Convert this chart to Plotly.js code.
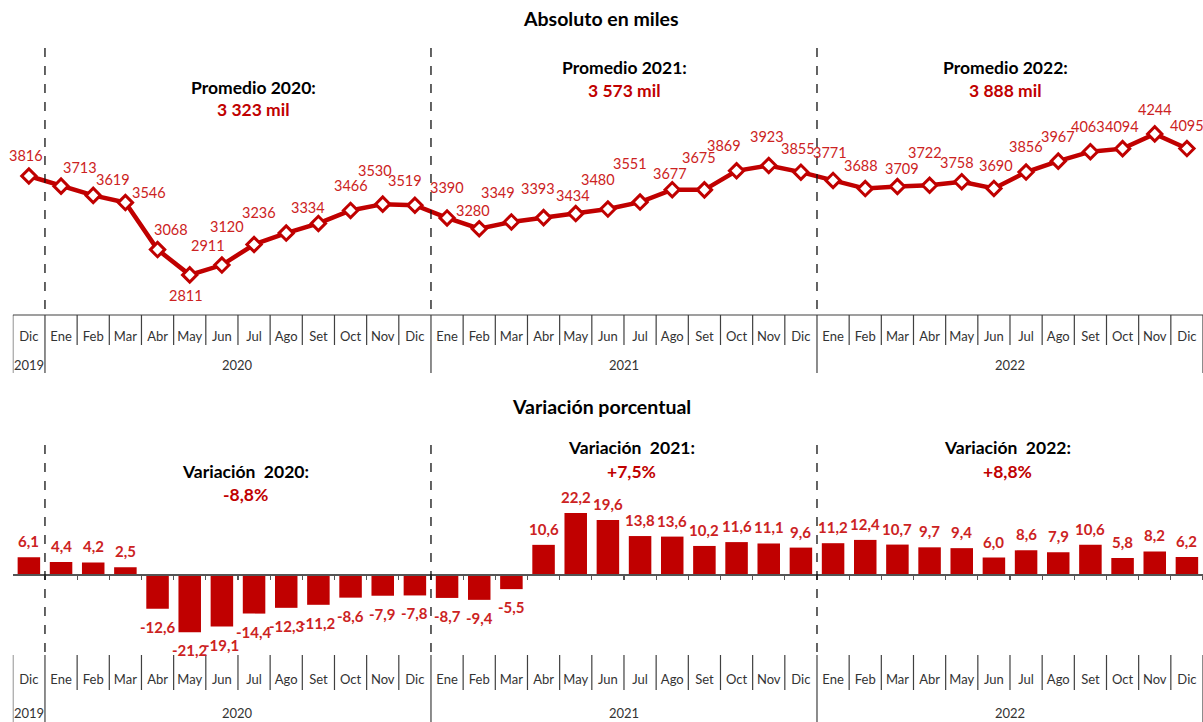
<!DOCTYPE html>
<html><head><meta charset="utf-8">
<script src="https://cdn.plot.ly/plotly-3.0.1.min.js"></script>
<style>html,body{margin:0;padding:0;background:#fff}#chart{width:1203px;height:722px}</style>
</head><body><div id="chart"></div>
<script>
// ---- data ----
const months = ["Dic",
  "Ene","Feb","Mar","Abr","May","Jun","Jul","Ago","Set","Oct","Nov","Dic",
  "Ene","Feb","Mar","Abr","May","Jun","Jul","Ago","Set","Oct","Nov","Dic",
  "Ene","Feb","Mar","Abr","May","Jun","Jul","Ago","Set","Oct","Nov","Dic"];
const years = ["2019",
  "2020","2020","2020","2020","2020","2020","2020","2020","2020","2020","2020","2020",
  "2021","2021","2021","2021","2021","2021","2021","2021","2021","2021","2021","2021",
  "2022","2022","2022","2022","2022","2022","2022","2022","2022","2022","2022","2022"];
const absoluto = [3816,
  3713,3619,3546,3068,2811,2911,3120,3236,3334,3466,3530,3519,
  3390,3280,3349,3393,3434,3480,3551,3677,3675,3869,3923,3855,
  3771,3688,3709,3722,3758,3690,3856,3967,4063,4094,4244,4095];
const variacion = [6.1,
  4.4,4.2,2.5,-12.6,-21.2,-19.1,-14.4,-12.3,-11.2,-8.6,-7.9,-7.8,
  -8.7,-9.4,-5.5,10.6,22.2,19.6,13.8,13.6,10.2,11.6,11.1,9.6,
  11.2,12.4,10.7,9.7,9.4,6.0,8.6,7.9,10.6,5.8,8.2,6.2];
const resumenAnios = ["2020","2021","2022"];
const promedios = ["3 323 mil","3 573 mil","3 888 mil"];
const variacionesAnuales = ["-8,8%","+7,5%","+8,8%"];

// ---- label offsets for the line labels (style, pixels) ----
const labelDx = [-3,
  19,20,24,13,-4,-14,-27,-27,-10,0,-8,-10,
  0,-6,-13,-6,-3,-10,-10,-2,-5,-13,-2,-3,
  -3,-4,5,-5,-5,2,0,0,-2,-1,0,0];
const labelDy = [-21,
  -19,-16,-10,-20,21,-20,-18,-21,-16,-25,-34,-25,
  -30,-18,-29,-29,-18,-30,-39,-16,-32,-25,-29,-24,
  -28,-23,-18,-33,-19,-23,-26,-25,-25,-22,-24,-23];

// ---- styling / layout helpers ----
const W = 1203, H = 722;
const F = 'Lato, "Open Sans", sans-serif';
const RED = '#C00000', LBL = '#CC2222', INK = '#333333';
const px = v => v / W, py = v => 1 - v / H;
const idx = months.map((_, i) => i);
const n = months.length;

// axis calibration (pixel layout)
const TOP = {top: 40, bottom: 315};
const BOT = {top: 440, bottom: 655};
const yTopRange = [3816 - (315 - 176) / 0.0984, 3816 + (176 - 40) / 0.0984];
const yBotRange = [-(655 - 574) / 2.75, (574 - 440) / 2.75];
const xdom = [12.8 / W, 1];

// year boundaries
const yearBreaks = [];
for (let i = 1; i < n; i++) if (years[i] !== years[i - 1]) yearBreaks.push(i - 0.5);
const yearGroups = [];
years.forEach((y, i) => {
  let g = yearGroups.find(o => o.y === y);
  if (!g) { g = {y, a: i, b: i}; yearGroups.push(g); }
  g.b = i;
});

const shapes = [];
const boxLine = {color: '#404040', width: 1.2};
shapes.push({type: 'line', xref: 'x', yref: 'paper', x0: -0.5, x1: n - 0.5,
  y0: py(TOP.bottom), y1: py(TOP.bottom), line: boxLine});
for (let k = 0; k <= n; k++) {
  const xb = k - 0.5;
  const isYear = k === 0 || k === n || yearBreaks.includes(xb);
  shapes.push({type: 'line', xref: 'x', yref: 'paper', x0: xb, x1: xb,
    y0: py(TOP.bottom), y1: py(isYear ? 373 : 345), line: boxLine});
  shapes.push({type: 'line', xref: 'x2', yref: 'paper', x0: xb, x1: xb,
    y0: py(BOT.bottom), y1: py(isYear ? 722 : 690), line: boxLine});
}
yearBreaks.forEach(xb => {
  shapes.push({type: 'line', xref: 'x', yref: 'paper', x0: xb, x1: xb,
    y0: py(48), y1: py(TOP.bottom), line: {color: '#111', width: 1.3, dash: 'dash'}});
  shapes.push({type: 'line', xref: 'x2', yref: 'paper', x0: xb, x1: xb,
    y0: py(445), y1: py(BOT.bottom), line: {color: '#111', width: 1.3, dash: 'dash'}});
});

const annotations = [];
const addText = (text, x, y, size, color, bold) => annotations.push({
  text: bold ? '<b>' + text + '</b>' : text, xref: 'paper', yref: 'paper',
  x: px(x), y: py(y), xanchor: 'center', yanchor: 'middle', showarrow: false,
  font: {family: F, size, color}});
addText('Absoluto en miles', 601, 19, 19.5, '#000', true);
addText('Variación porcentual', 601, 407, 19.5, '#000', true);
const promX = [253, 624, 1006], promY = [88, 68, 68];
const varX = [245, 631, 1007], varY = [471, 448, 448];
resumenAnios.forEach((a, k) => {
  addText('Promedio ' + a + ':', promX[k], promY[k], 17.5, '#000', true);
  addText(promedios[k], promX[k], promY[k] + 22, 17.5, RED, true);
  addText('Variación  ' + a + ':', varX[k], varY[k], 17.5, '#000', true);
  addText(variacionesAnuales[k], varX[k], varY[k] + 23, 17.5, RED, true);
});
yearGroups.forEach(g => {
  annotations.push({text: g.y, xref: 'x', yref: 'paper', x: (g.a + g.b) / 2, y: py(365),
    xanchor: 'center', yanchor: 'middle', showarrow: false, font: {family: F, size: 13, color: INK}});
  annotations.push({text: g.y, xref: 'x2', yref: 'paper', x: (g.a + g.b) / 2, y: py(713),
    xanchor: 'center', yanchor: 'middle', showarrow: false, font: {family: F, size: 13, color: INK}});
});
// data labels of the line, anchored at each data point
absoluto.forEach((v, i) => {
  annotations.push({text: String(v), xref: 'x', yref: 'y', x: i, y: v,
    xshift: labelDx[i], yshift: -labelDy[i], xanchor: 'center', yanchor: 'middle',
    showarrow: false, font: {family: F, size: 14.5, color: LBL}});
});
// data labels of the bars, anchored at each bar end
variacion.forEach((v, i) => {
  annotations.push({text: '<b>' + v.toFixed(1).replace('.', ',') + '</b>', xref: 'x2', yref: 'y2',
    x: i, y: v, yanchor: v >= 0 ? 'bottom' : 'top', yshift: v >= 0 ? 5 : -7,
    xanchor: 'center', showarrow: false, font: {family: F, size: 15, color: LBL}});
});

const traces = [
  {type: 'scatter', x: idx, y: absoluto, xaxis: 'x', yaxis: 'y',
   mode: 'lines+markers',
   line: {color: RED, width: 4.5},
   marker: {symbol: 'diamond', size: 11, color: '#fff', line: {color: RED, width: 3}},
   cliponaxis: false, hoverinfo: 'skip', showlegend: false},
  {type: 'bar', x: idx, y: variacion, xaxis: 'x2', yaxis: 'y2',
   marker: {color: RED}, cliponaxis: false, hoverinfo: 'skip', showlegend: false},
  {type: 'scatter', x: [0], y: [0], xaxis: 'x3', yaxis: 'y2', mode: 'markers',
   marker: {opacity: 0}, hoverinfo: 'skip', showlegend: false}
];

const monthAxis = {
  domain: xdom, range: [-0.5, n - 0.5], tickmode: 'array', tickvals: idx, ticktext: months,
  ticks: 'outside', ticklen: 9, tickcolor: 'rgba(0,0,0,0)',
  tickfont: {family: F, size: 13, color: INK},
  showgrid: false, zeroline: false, showline: false, fixedrange: true
};

const layout = {
  width: W, height: H, margin: {l: 0, r: 0, t: 0, b: 0},
  paper_bgcolor: '#fff', plot_bgcolor: 'rgba(0,0,0,0)',
  separators: ', ', bargap: 0.3, showlegend: false,
  xaxis: Object.assign({}, monthAxis, {anchor: 'y'}),
  yaxis: {domain: [py(TOP.bottom), py(TOP.top)], range: yTopRange, visible: false, fixedrange: true},
  xaxis2: Object.assign({}, monthAxis, {anchor: 'y2', ticklen: 12}),
  yaxis2: {domain: [py(BOT.bottom), py(BOT.top)], range: yBotRange, visible: false, fixedrange: true},
  xaxis3: {overlaying: 'x2', anchor: 'free', position: py(574), domain: xdom,
    range: [-0.5, n - 0.5], tickmode: 'array', tickvals: idx.map(i => i + 0.5),
    showticklabels: false, ticks: 'outside', ticklen: 4, tickcolor: '#555', tickwidth: 1.2,
    showline: true, linecolor: '#555', linewidth: 1.5, showgrid: false, zeroline: false},
  shapes, annotations
};

Plotly.newPlot('chart', traces, layout, {displayModeBar: false, staticPlot: true});
</script></body></html>
